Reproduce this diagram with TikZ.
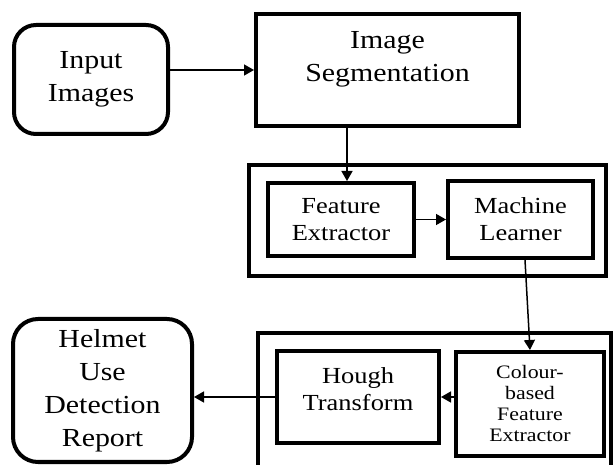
\documentclass[tikz,border=0pt]{standalone}
\usepackage{fontspec}
\setmainfont{Liberation Serif}[FakeStretch=1.15]
\usetikzlibrary{arrows.meta}
\tikzset{
  blk/.style={draw=black, line width=4pt, align=center, inner sep=0pt},
  rblk/.style={blk, rounded corners=22pt},
  grp/.style={draw=black, line width=3.5pt, inner sep=0pt},
  arr/.style={draw=black, line width=1.5pt, -{Triangle[length=10pt,width=11pt]}},
  txtbig/.style={font=\fontsize{26}{33}\selectfont},
  txtmid/.style={font=\fontsize{23}{27}\selectfont},
  txtsmall/.style={font=\fontsize{19}{21}\selectfont}
}

\begin{document}
\begin{tikzpicture}[x=1pt,y=-1pt]
  \useasboundingbox (0,0) rectangle (614,465);
  \clip (0,0) rectangle (614,465);

  % top row
  \node[rblk, txtbig, minimum width=154pt, minimum height=109pt] (input) at (91,79.5) {Input\\Images};
  \node[blk, txtbig, minimum width=263pt, minimum height=112pt] (seg) at (387.5,70) {Image\\Segmentation\\[-6pt]\mbox{}};

  % learning stage
  \node[grp, minimum width=357pt, minimum height=111pt] (grpA) at (427.5,220.5) {};
  \node[blk, txtmid, minimum width=146pt, minimum height=73pt] (fe) at (341,219.5) {Feature\\Extractor};
  \node[blk, txtmid, minimum width=145pt, minimum height=77pt] (ml) at (520.5,219.5) {Machine\\Learner};

  % detection stage
  \node[grp, minimum width=353pt, minimum height=146pt] (grpB) at (434.5,406) {};
  \node[blk, txtmid, minimum width=162pt, minimum height=92pt] (hough) at (358,397) {Hough\\Transform\\[-12pt]\mbox{}};
  \node[blk, txtsmall, minimum width=148pt, minimum height=104pt] (cfe) at (530,404) {Colour-\\based\\Feature\\Extractor};
  \node[rblk, txtbig, rounded corners=25pt, minimum width=179pt, minimum height=143pt] (report) at (102.5,390.5) {Helmet\\Use\\Detection\\Report};

  % connectors
  \draw[arr] (seg.west -| input.east) -- (seg.west);
  \draw[arr] ([xshift=6pt]fe.north |- seg.south) -- ([xshift=6pt]fe.north);
  \draw[arr] (fe.east) -- (ml.west);
  \draw[arr] ([xshift=4.5pt]ml.south) -- (cfe.north);
  \draw[arr] (cfe.west |- hough.east) -- (hough.east);
  \draw[arr] (hough.west) -- (report.east |- hough.west);
\end{tikzpicture}
\end{document}
